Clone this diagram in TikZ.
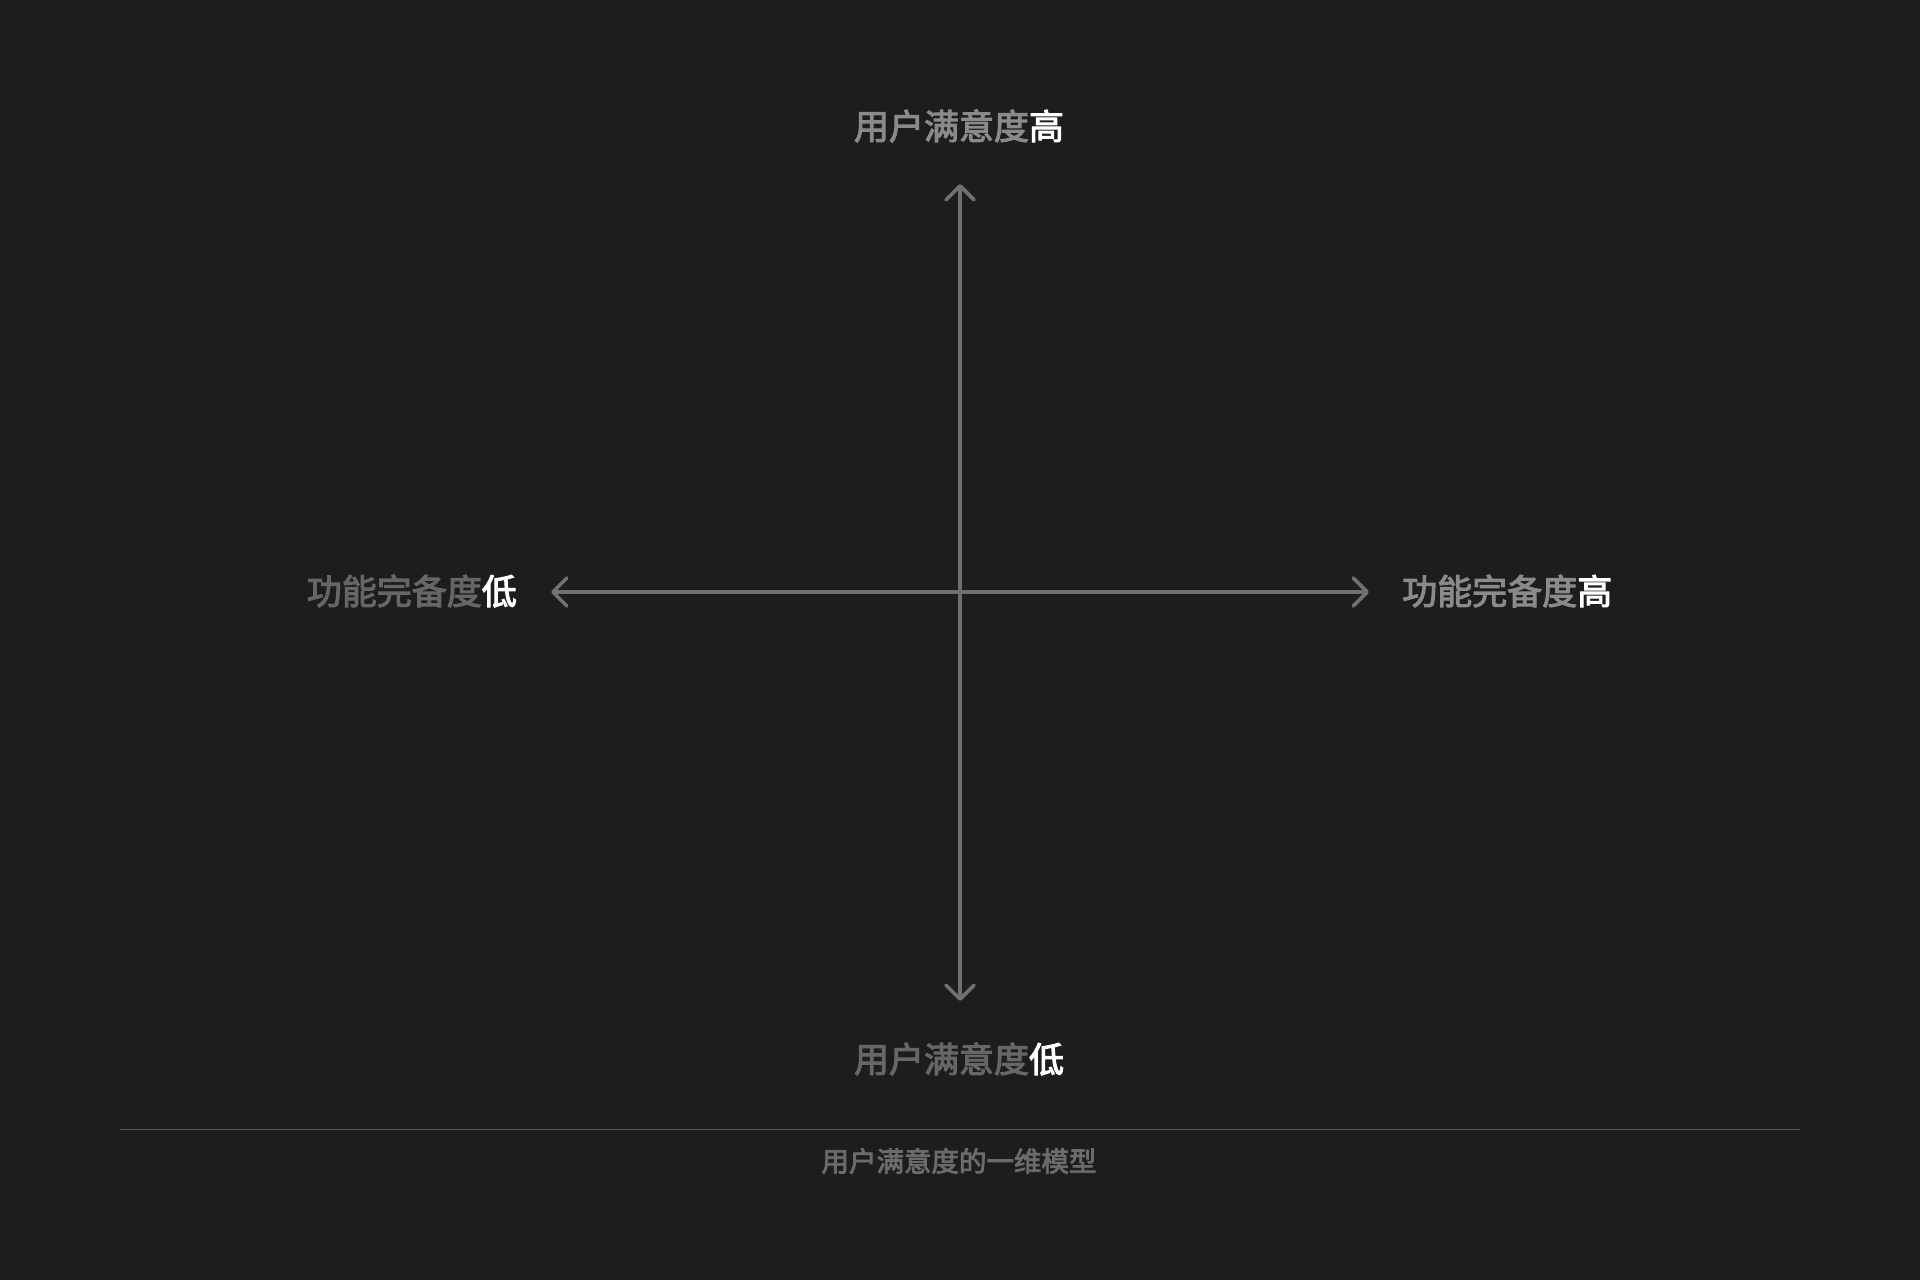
\documentclass[tikz,border=0pt]{standalone}
\usepackage{fontspec}
\usetikzlibrary{arrows.meta}
\newfontfamily\cjk[FakeBold=3]{Noto Sans CJK SC}
\definecolor{bg}{HTML}{1C1D1D}
\definecolor{axisgrey}{HTML}{707070}
\definecolor{lightlab}{HTML}{8A8A8A}
\definecolor{darklab}{HTML}{666666}
\definecolor{capgrey}{HTML}{6B6B6B}
\definecolor{rulegrey}{HTML}{585858}
\tikzset{
  axisline/.style={draw=axisgrey, line width=3.6pt, line cap=round,
    arrows={Straight Barb[length=14pt,width=28pt,line width=3.6pt,round]-Straight Barb[length=14pt,width=28pt,line width=3.6pt,round]}},
  label/.style={inner sep=0pt, font=\cjk\fontsize{35}{40}\selectfont},
  caption/.style={inner sep=0pt, text=capgrey, font=\cjk\fontsize{27.5}{32}\selectfont},
}
\begin{document}
\begin{tikzpicture}[x=1pt,y=-1pt]
\fill[bg] (0,0) rectangle (1920,1280);
\useasboundingbox (0,0) rectangle (1920,1280);
\coordinate (ttip) at (960,184);
\coordinate (btip) at (960,1001);
\coordinate (ltip) at (551,592);
\coordinate (rtip) at (1369,592);
\draw[axisline] (ltip) -- (rtip);
\draw[axisline] (btip) -- (ttip);
\node[label, text=lightlab] (t) at (959,126) {用户满意度\textcolor{white}{高}};
\node[label, text=darklab] (b) at (959,1059) {用户满意度\textcolor{white}{低}};
\node[label, text=darklab, anchor=east] (l) at (517,591) {功能完备度\textcolor{white}{低}};
\node[label, text=lightlab, anchor=west] (r) at (1402,591) {功能完备度\textcolor{white}{高}};
\coordinate (rl) at (120,1129.5);
\coordinate (rr) at (1800,1129.5);
\draw[rulegrey, line width=1.2pt] (rl) -- (rr);
\node[caption] (cap) at (959,1161) {用户满意度的一维模型};
\end{tikzpicture}
\end{document}
